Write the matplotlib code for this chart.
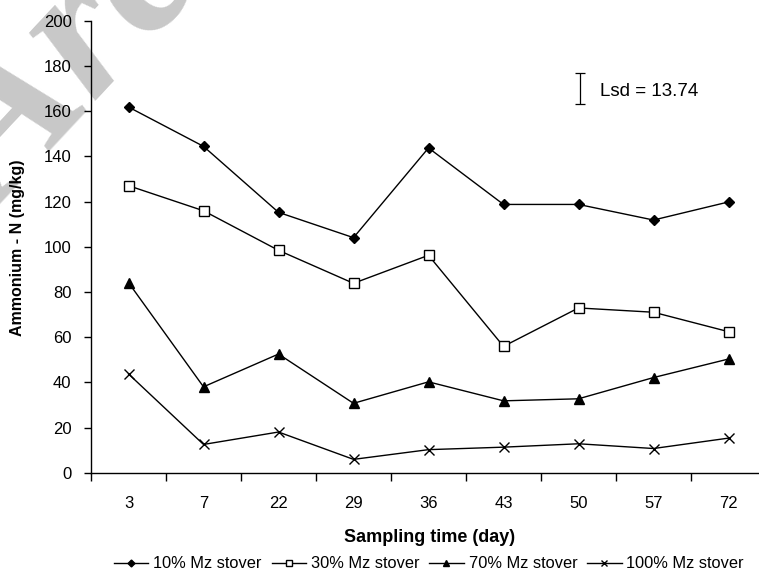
import numpy as np
import matplotlib
matplotlib.use('Agg')
import matplotlib.pyplot as plt

plt.rcParams['font.family'] = ['Liberation Sans', 'DejaVu Sans']

# Sampling days (categories) and ammonium-N per treatment (mg/kg)
days = ["3", "7", "22", "29", "36", "43", "50", "57", "72"]
stover_10 = [161.8, 144.4, 115.2, 104.0, 143.7, 118.7, 118.7, 111.8, 119.8]
stover_30 = [127.0, 115.9, 98.4, 83.8, 96.2, 55.9, 72.9, 71.0, 62.4]
stover_70 = [84.1, 38.0, 52.5, 30.7, 40.2, 31.8, 32.7, 42.1, 50.3]
stover_100 = [43.7, 12.5, 18.0, 5.9, 10.2, 11.3, 12.8, 10.7, 15.3]
lsd = 13.74

fig = plt.figure(figsize=(7.59, 5.79), dpi=100)

# faint diagonal watermark behind the plot
fig.text(0.003, 0.632, "Archive", rotation=47, rotation_mode='anchor',
         ha='left', va='baseline', fontsize=150, color='#c8c8c8',
         fontweight='bold', fontstyle='italic', family='Liberation Serif',
         zorder=0)

ax = fig.add_axes([91 / 759, 1 - 472.7 / 579, 675 / 759, 452 / 579])
ax.set_facecolor('none')
ax.set_zorder(1)
x = np.arange(len(days))

lw = 1.0
ax.plot(x, stover_10, color='black', lw=lw, marker='D', ms=5,
        mfc='black', mec='black', label='10% Mz stover')
ax.plot(x, stover_30, color='black', lw=lw, marker='s', ms=6.5,
        mfc='white', mec='black', mew=1.0, label='30% Mz stover')
ax.plot(x, stover_70, color='black', lw=lw, marker='^', ms=6.5,
        mfc='black', mec='black', label='70% Mz stover')
ax.plot(x, stover_100, color='black', lw=lw, marker='x', ms=6.5,
        mec='black', mew=1.0, label='100% Mz stover')

# LSD bar
ax.errorbar([6.02], [170.2], yerr=[lsd / 2], color='black', lw=0.9,
            capsize=3.5, capthick=0.9)
ax.text(6.28, 168.5, f"Lsd = {lsd}", fontsize=13.5, va='center', ha='left')

ax.set_xlim(-0.5, len(days) - 0.5)
ax.set_ylim(0, 200)
ax.set_yticks(np.arange(0, 201, 20))
ax.set_xticks(x)
ax.set_xticklabels(days)
ax.set_xticks(np.arange(-0.5, len(days)), minor=True)

for side in ('top', 'right'):
    ax.spines[side].set_visible(False)
for side in ('left', 'bottom'):
    ax.spines[side].set_linewidth(1.0)

ax.tick_params(axis='y', direction='out', length=5, width=1.0, pad=9,
               labelsize=12)
ax.tick_params(axis='x', which='major', length=0, pad=17, labelsize=12)
ax.tick_params(axis='x', which='minor', direction='out', length=6, width=1.0)

fig.text(430 / 759, 1 - 538 / 579, "Sampling time (day)", ha='center',
         va='center', fontsize=13, fontweight='bold')
fig.text(18 / 759, 1 - 248 / 579, "Ammonium - N (mg/kg)", ha='center',
         va='center', rotation=90, fontsize=11.5, fontweight='bold')

fig.legend(loc='center', bbox_to_anchor=(429 / 759, 1 - 564 / 579), ncol=4,
           frameon=False, fontsize=11.8, handlelength=2.1, handletextpad=0.3,
           columnspacing=0.6, markerscale=0.7)

fig.savefig("out.png", dpi=100)
